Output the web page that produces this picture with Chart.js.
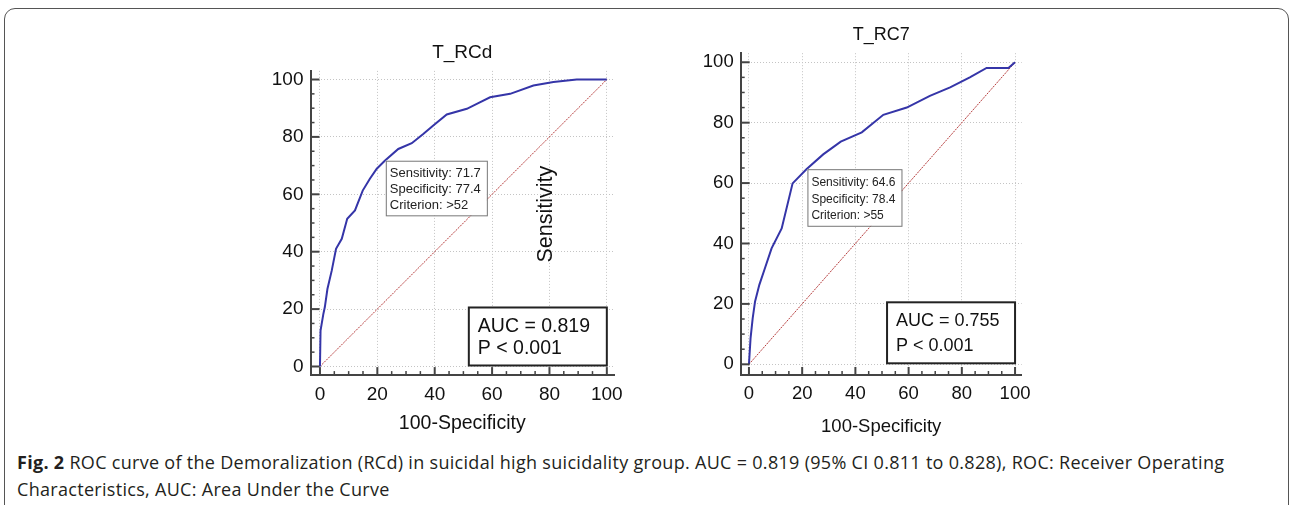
<!DOCTYPE html>
<html>
<head>
<meta charset="utf-8">
<script src="https://cdn.jsdelivr.net/npm/chart.js@4.4.0/dist/chart.umd.min.js"></script>
<style>
  body { margin: 0; width: 1292px; height: 505px; background: #fff; position: relative; overflow: hidden; }
  .frame { position: absolute; left: 4px; top: 8px; width: 1283px; height: 530px; border: 1.5px solid #555; border-radius: 11px; }
  #left { position: absolute; left: 240px; top: 20px; }
  #right { position: absolute; left: 530px; top: 10px; }
  .caption { position: absolute; left: 17px; top: 449px; font-family: "Open Sans", sans-serif; font-size: 18px; letter-spacing: 0.3px; line-height: 27px; color: #231f20; white-space: nowrap; }
</style>
</head>
<body>
<div class="frame"></div>
<canvas id="left" width="400" height="420"></canvas>
<canvas id="right" width="520" height="430"></canvas>
<div class="caption"><b>Fig. 2</b> ROC curve of the Demoralization (RCd) in suicidal high suicidality group. AUC = 0.819 (95% CI 0.811 to 0.828), ROC: Receiver Operating<br>Characteristics, AUC: Area Under the Curve</div>

<script>
// T_RCd curve (100-Specificity, Sensitivity)
const rcdFpr = [0, 0.2, 1.2, 1.7, 2.6, 4.1, 5.6, 7.6, 9.5, 12.2, 14.9, 17.4, 19.8, 22.6, 27.3, 32, 36, 39.5, 44.2, 51.2, 55.2, 59.3, 66.3, 74.4, 81.4, 89.5, 100];
const rcdTpr = [0, 12.5, 18.4, 20.7, 27, 33.4, 41, 44.5, 51.5, 54.4, 61.3, 65.4, 68.9, 71.7, 75.8, 77.8, 81, 84, 87.8, 89.8, 91.8, 93.8, 95, 97.9, 99.1, 100, 100];

// T_RC7 curve
const rc7Fpr = [0, 0.6, 1.4, 2.3, 3.9, 6, 8.5, 12.3, 16.4, 21.6, 27.9, 34.5, 42.4, 50.5, 59.3, 68, 75.6, 83, 89.3, 97.5, 100];
const rc7Tpr = [0, 8.6, 15.2, 20.8, 26.3, 31.8, 38.4, 45, 59.9, 64.6, 69.5, 73.7, 76.8, 82.6, 85, 88.9, 91.7, 95, 98.1, 98.1, 100];

const diagX = [0, 100];
const diagY = [0, 100];

const majorTicks = [0, 20, 40, 60, 80, 100];
const minorTicks = [0, 5, 10, 15, 20, 25, 30, 35, 40, 45, 50, 55, 60, 65, 70, 75, 80, 85, 90, 95, 100];

const rcdCriterion = { sens: 71.7, spec: 77.4, crit: '>52', auc: '0.819', p: '< 0.001' };
const rc7Criterion = { sens: 64.6, spec: 78.4, crit: '>55', auc: '0.755', p: '< 0.001' };

const FONT = '"Liberation Sans", Arial, sans-serif';

const toPoints = (xs, ys) => xs.map((v, i) => ({ x: v, y: ys[i] }));

const rocExtras = {
  id: 'rocExtras',
  afterDraw(chart, args, o) {
    const { ctx, chartArea: a, scales: { x, y } } = chart;
    ctx.save();
    ctx.strokeStyle = '#444';
    minorTicks.forEach(v => {
      const major = v % 20 === 0;
      ctx.lineWidth = major ? 2 : 1.5;
      const px = x.getPixelForValue(v);
      ctx.beginPath();
      ctx.moveTo(px, a.bottom);
      ctx.lineTo(px, a.bottom - (major ? 8 : 4));
      ctx.stroke();
      const py = y.getPixelForValue(v);
      ctx.beginPath();
      ctx.moveTo(a.left, py);
      ctx.lineTo(a.left + (major ? 9 : 4), py);
      ctx.stroke();
    });

    // criterion box
    const c = o.criterion;
    const bx = x.getPixelForValue(100 - c.spec) + 1;
    const by = y.getPixelForValue(c.sens);
    const lines = ['Sensitivity: ' + c.sens, 'Specificity: ' + c.spec, 'Criterion: ' + c.crit];
    ctx.font = o.boxFont + 'px ' + FONT;
    const tw = Math.max(...lines.map(l => ctx.measureText(l).width));
    const bw = tw + 10, bh = o.boxLine * 2 + o.boxFirst + 10;
    ctx.fillStyle = '#fff';
    ctx.fillRect(bx, by, bw, bh);
    ctx.strokeStyle = '#777';
    ctx.lineWidth = 1;
    ctx.strokeRect(bx + 0.5, by + 0.5, bw, bh);
    ctx.fillStyle = '#222';
    ctx.textBaseline = 'middle';
    lines.forEach((l, i) => ctx.fillText(l, bx + 4, by + o.boxFirst + i * o.boxLine));

    // AUC box anchored at (100, 0)
    const rx = x.getPixelForValue(100);
    const ry = y.getPixelForValue(0) - 1;
    const w = o.aucW, h = o.aucH;
    ctx.fillStyle = '#fff';
    ctx.fillRect(rx - w, ry - h, w, h);
    ctx.strokeStyle = '#222';
    ctx.lineWidth = 2;
    ctx.strokeRect(rx - w, ry - h, w, h);
    ctx.fillStyle = '#111';
    ctx.font = o.aucFont + 'px ' + FONT;
    ctx.fillText('AUC = ' + c.auc, rx - w + 9, ry - h + o.aucL1);
    ctx.fillText('P ' + c.p, rx - w + 9, ry - h + o.aucL2);
    ctx.restore();
  }
};

function makeChart(id, fpr, tpr, s) {
  return new Chart(document.getElementById(id), {
    type: 'scatter',
    data: {
      datasets: [
        {
          data: toPoints(fpr, tpr),
          showLine: true,
          borderColor: '#3535a8',
          borderWidth: 2,
          pointRadius: 0,
          tension: 0
        },
        {
          data: toPoints(diagX, diagY),
          showLine: true,
          borderColor: '#b53b3b',
          borderWidth: 1,
          borderDash: [2, 1],
          pointRadius: 0
        }
      ]
    },
    options: {
      responsive: false,
      animation: false,
      layout: { padding: { left: 0, right: s.padRight, top: 0, bottom: 0 } },
      plugins: {
        legend: { display: false },
        tooltip: { enabled: false },
        title: {
          display: true,
          text: s.title,
          fullSize: false,
          color: '#111',
          font: { family: FONT, size: s.titleFont, weight: 'normal' },
          padding: { top: s.titleTop, bottom: s.titleBottom }
        },
        rocExtras: s.extras
      },
      scales: {
        x: {
          type: 'linear',
          min: s.xMin,
          max: 102.5,
          afterBuildTicks: sc => { sc.ticks = majorTicks.map(v => ({ value: v })); },
          afterFit: sc => { sc.height = s.xHeight; },
          grid: { color: '#c4c4c4', lineWidth: 1, drawTicks: false },
          border: { display: true, color: '#444', width: 2, dash: [1, 2] },
          ticks: { color: '#111', padding: 8, font: { family: FONT, size: s.tickFont }, maxRotation: 0 },
          title: { display: true, text: '100-Specificity', color: '#111', font: { family: FONT, size: s.xTitleFont }, padding: { top: 0, bottom: s.xTitleBottom } }
        },
        y: {
          type: 'linear',
          min: s.yMin,
          max: 103,
          afterBuildTicks: sc => { sc.ticks = majorTicks.map(v => ({ value: v })); },
          afterFit: sc => { sc.width = s.yWidth; },
          grid: { color: '#c4c4c4', lineWidth: 1, drawTicks: false },
          border: { display: true, color: '#444', width: 2, dash: [1, 2] },
          ticks: { color: '#111', padding: 7, font: { family: FONT, size: s.tickFont } },
          title: { display: s.yTitle, text: 'Sensitivity', color: '#111', font: { family: FONT, size: 21.5 }, padding: { top: 3.1, bottom: 0 } }
        }
      }
    },
    plugins: [rocExtras]
  });
}

makeChart('left', rcdFpr, rcdTpr, {
  title: 'T_RCd', titleFont: 19, titleTop: 21.6, titleBottom: 6.5,
  padRight: 26, xMin: -3.3, yMin: -3, xHeight: 64.9, yWidth: 70.5,
  tickFont: 19, xTitleFont: 19.5, xTitleBottom: 4.3, yTitle: false,
  extras: { criterion: rcdCriterion, boxFont: 13, boxLine: 15.8, boxFirst: 13, aucW: 138, aucH: 58, aucFont: 19.5, aucL1: 19.5, aucL2: 41 }
});

makeChart('right', rc7Fpr, rc7Tpr, {
  title: 'T_RC7', titleFont: 18, titleTop: 14.2, titleBottom: 7.4,
  padRight: 28.3, xMin: -3.1, yMin: -3.54, xHeight: 65, yWidth: 210.7,
  tickFont: 18.5, xTitleFont: 18.5, xTitleBottom: 1.9, yTitle: true,
  extras: { criterion: rc7Criterion, boxFont: 12, boxLine: 16.3, boxFirst: 14, aucW: 128, aucH: 61, aucFont: 18, aucL1: 19, aucL2: 44 }
});
</script>
</body>
</html>
